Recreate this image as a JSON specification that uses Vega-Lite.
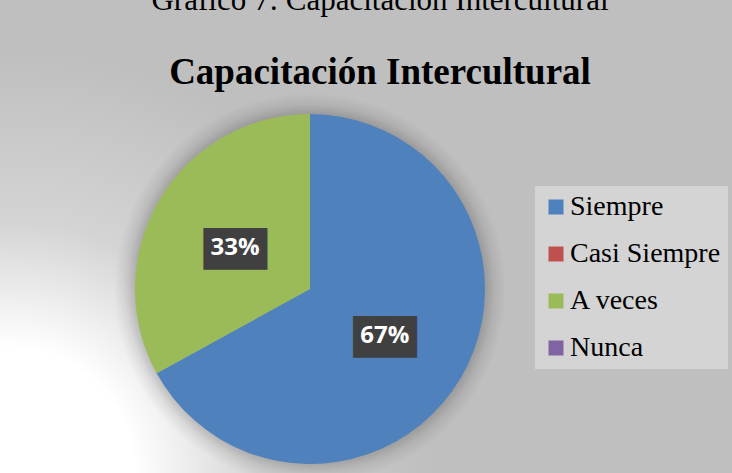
{
  "$schema": "https://vega.github.io/schema/vega-lite/v6.json",
  "autosize": {"type": "none"},
  "width": 604,
  "height": 368,
  "padding": {"left": 8, "top": 105, "right": 120, "bottom": 0},
  "background": "#bfbfbf",
  "title": {
    "text": "Gráfico 7: Capacitación Intercultural",
    "subtitle": "Capacitación Intercultural",
    "font": "Liberation Serif",
    "fontSize": 31,
    "fontWeight": "normal",
    "color": "#000000",
    "subtitleFont": "Liberation Serif",
    "subtitleFontSize": 37,
    "subtitleFontWeight": "bold",
    "subtitleColor": "#000000",
    "subtitlePadding": 38,
    "anchor": "middle",
    "frame": "group",
    "dx": 70,
    "offset": -223,
    "zindex": 2
  },
  "config": {"view": {"stroke": null}},
  "data": {
    "values": [
      {"categoria": "Siempre", "valor": 0.67, "orden": 1},
      {"categoria": "Casi Siempre", "valor": 0, "orden": 2},
      {"categoria": "A veces", "valor": 0.33, "orden": 3},
      {"categoria": "Nunca", "valor": 0, "orden": 4}
    ]
  },
  "layer": [
    {
      "data": {"values": [{"fondo": 1}]},
      "mark": {
        "type": "arc",
        "theta": 0,
        "theta2": 6.2832,
        "radius": 420,
        "fill": {
          "gradient": "radial",
          "x1": 0.14, "y1": 0.72, "x2": 0.14, "y2": 0.72, "r1": 0, "r2": 0.5,
          "stops": [
            {"offset": 0, "color": "#ffffff"},
            {"offset": 0.3, "color": "#ffffff"},
            {"offset": 0.6, "color": "#d4d4d4"},
            {"offset": 1, "color": "#bfbfbf"}
          ]
        }
      },
      "encoding": {}
    },
    {
      "data": {"values": [{"sombra": 1}]},
      "mark": {
        "type": "arc",
        "theta": 0,
        "theta2": 6.2832,
        "radius": 196,
        "fill": {
          "gradient": "radial",
          "x1": 0.5, "y1": 0.5, "x2": 0.5, "y2": 0.5, "r1": 0, "r2": 0.5,
          "stops": [
            {"offset": 0, "color": "rgba(0,0,0,0.25)"},
            {"offset": 0.88, "color": "rgba(0,0,0,0.22)"},
            {"offset": 0.94, "color": "rgba(0,0,0,0.08)"},
            {"offset": 1, "color": "rgba(0,0,0,0)"}
          ]
        }
      },
      "encoding": {}
    },
    {
      "mark": {"type": "arc", "radius": 175, "stroke": null},
      "encoding": {
        "theta": {"field": "valor", "type": "quantitative", "stack": true},
        "order": {"field": "orden", "type": "quantitative"},
        "color": {
          "field": "categoria",
          "type": "nominal",
          "scale": {
            "domain": ["Siempre", "Casi Siempre", "A veces", "Nunca"],
            "range": ["#4f81bd", "#c0504d", "#9bbb59", "#8064a2"]
          },
          "legend": {
            "orient": "none",
            "legendX": 527,
            "legendY": 81,
            "title": null,
            "fillColor": "#d4d4d4",
            "strokeColor": null,
            "padding": 7,
            "symbolType": "square",
            "symbolSize": 225,
            "symbolStrokeWidth": 0,
            "labelFont": "Liberation Serif",
            "labelFontSize": 28,
            "labelColor": "#000000",
            "labelLimit": 300,
            "labelOffset": 0,
            "rowPadding": 19,
            "zindex": 2
          }
        }
      }
    },
    {
      "transform": [{"filter": "datum.valor > 0"}],
      "mark": {
        "type": "text",
        "text": "███",
        "radius": 87,
        "font": "DejaVu Sans Mono",
        "fontSize": 35,
        "color": "#404040",
        "align": "center",
        "baseline": "middle",
        "dy": 5
      },
      "encoding": {
        "theta": {"field": "valor", "type": "quantitative", "stack": true},
        "order": {"field": "orden", "type": "quantitative"}
      }
    },
    {
      "transform": [{"filter": "datum.valor > 0"}],
      "mark": {
        "type": "text",
        "radius": 87,
        "font": "Open Sans",
        "fontSize": 24,
        "fontWeight": "bold",
        "color": "#ffffff",
        "align": "center",
        "baseline": "middle",
        "dy": 3
      },
      "encoding": {
        "theta": {"field": "valor", "type": "quantitative", "stack": true},
        "order": {"field": "orden", "type": "quantitative"},
        "text": {"field": "valor", "type": "quantitative", "format": ".0%"}
      }
    }
  ]
}
